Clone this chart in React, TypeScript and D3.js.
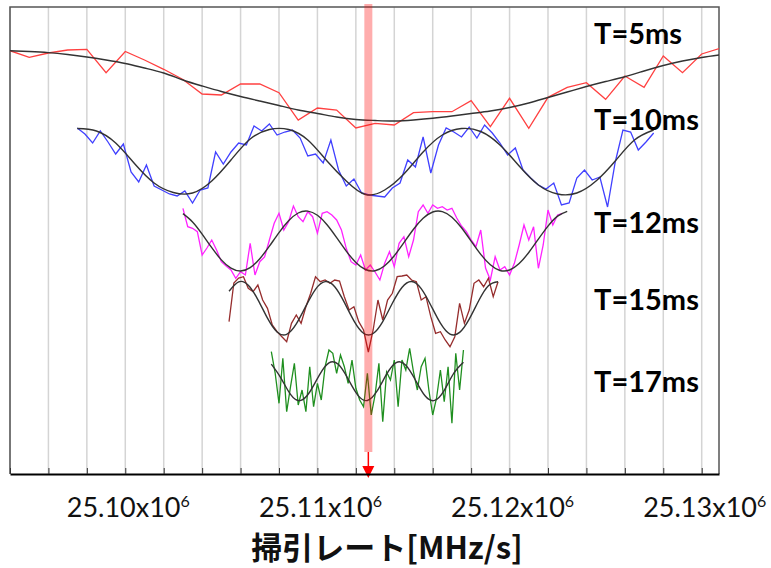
import { useEffect, useRef } from 'react'
import * as d3 from 'd3'

// sweep rate in units of x10^6 MHz/s, signal in arbitrary units (traces stacked)
const xTickLabels = [25.1, 25.11, 25.12, 25.13]
const seriesLabels = ['T=5ms', 'T=10ms', 'T=12ms', 'T=15ms', 'T=17ms']
const markerRate = 25.11265

const t5Start = 25.094
const t5Step = 0.001
const t5Data = [423.3, 416.7, 421, 424, 424.7, 401.3, 422.5, 414, 404.7, 394.5, 380, 379, 390, 390, 381.3, 354, 366, 364, 346, 350.7, 349, 361.3, 362.3, 362.3, 373.3, 347.3, 375.7, 345.7, 376.7, 386.7, 391.3, 374.7, 398, 386.7, 418, 401.3, 420, 426]
const t5FitStep = 0.001
const t5Fit = [423.3, 422.5, 421.4, 419.5, 417, 414, 410.5, 406, 401, 394, 388, 382.5, 377.5, 373, 368.5, 364, 360.5, 357, 354.5, 353.5, 353, 354, 355.7, 358, 360.5, 363, 366.5, 371, 376.5, 382, 387.5, 392.5, 397.3, 403, 408.5, 413, 416.5, 419.2]

const t10Start = 25.0975
const t10Step = 0.0004
const t10Data = [346, 340, 331, 343, 332, 320, 330, 302, 292, 309, 288, 284, 280, 278, 283, 271, 284, 286, 322, 310, 322, 331, 329, 348, 343, 350, 339, 342, 344, 336, 318, 320, 311, 334, 304, 288, 295, 281, 279, 278, 277, 286, 291, 314, 307, 337, 301, 329, 346, 342, 337, 347, 336, 349, 341, 331, 319, 326, 304, 296, 289, 285, 291, 269, 271, 296, 304, 294, 297, 267, 312, 344, 342, 324, 332, 341]
const t10FitStep = 0.001
const t10Fit = [345.5, 343, 331, 310, 291, 281.5, 281, 293, 314, 335, 344.5, 344.5, 334, 313, 293, 279.5, 284, 300, 322, 339, 345.5, 342.5, 329, 308, 289, 280, 281, 293, 313, 334, 344]

const t12Start = 25.103
const t12Step = 0.00025
const t12Data = [265.7, 247.3, 245.7, 242.3, 219, 226, 234, 224, 212.3, 208, 204, 195.7, 202.3, 199, 230.7, 199, 212.3, 217, 234, 250.7, 260.7, 244, 252.3, 268, 257.3, 252.3, 262.3, 257.3, 240.7, 260.7, 262.3, 259, 254, 244, 225.7, 212.3, 209, 219, 204, 209, 202, 194, 210.7, 222.3, 207.3, 230.7, 237.3, 217.3, 234, 262.3, 269, 260.7, 269, 265.7, 267.3, 264, 265.7, 256, 248, 242.3, 234, 227.3, 244, 206, 194, 217.3, 204, 207.3, 199, 210.7, 229, 249, 234, 247.3, 205.7, 229, 264, 249, 259, 260.7]
const t12FitStep = 0.0005
const t12Fit = [260.4, 252.1, 239.9, 226.3, 214.1, 205.8, 203, 206.4, 215.3, 227.8, 241.4, 253.2, 261, 262.9, 258.7, 249.3, 236.4, 222.9, 211.6, 204.5, 203.3, 208.3, 218.3, 231.4, 244.8, 255.7, 262, 262.4, 256.8, 246.2, 232.8, 219.6, 209.2, 203.5, 204, 210.5, 221.5, 234.9, 247.9, 257.9, 262.7]

const t15Start = 25.1054
const t15Step = 0.00025
const t15Data = [152.3, 191, 196, 197.3, 185.7, 182.3, 189, 174, 165.7, 149, 142.3, 137.3, 132.3, 150.7, 159, 150.7, 167.3, 180.7, 197.3, 192.3, 194, 190.7, 194, 193, 177.3, 164, 167.3, 152.3, 144, 122, 144, 174, 154, 174, 180.7, 197.3, 198, 199, 194, 192.3, 174, 177.3, 157.3, 140.7, 142.3, 134, 127.3, 137.3, 170.7, 150.7, 164, 190.7, 194, 187.3, 195.7, 177.3, 192.3]
const t15FitStep = 0.0005
const t15Fit = [182.7, 192.1, 188.8, 174.4, 155.8, 142, 139.7, 150.1, 167.9, 184.7, 192.4, 187.2, 171.6, 153.2, 140.8, 140.5, 152.4, 170.7, 186.5, 192.5, 185.4, 168.8, 150.8, 139.9, 141.6, 154.9, 173.5, 188.3, 192.2]

const t17Start = 25.1076
const t17Step = 0.0002
const t17Data = [122.3, 101, 70.7, 115.7, 62.3, 87.3, 110.7, 69, 84, 62.3, 107.3, 67.3, 90.7, 74, 107.3, 124, 120.7, 100.7, 119, 107.3, 90.7, 114, 85.7, 74, 67.3, 100.7, 59, 79, 110.7, 52.3, 102, 94, 114, 67.3, 114, 104, 125.7, 102, 84, 107.3, 115.7, 84, 59, 76, 104, 72.3, 107.3, 50.7, 120.7, 84, 124]
const t17FitStep = 0.0005
const t17Fit = [109.8, 95.9, 79.6, 73.4, 82, 98.9, 111.1, 109.4, 94.9, 78.9, 73.5, 82.8, 99.8, 111.4, 108.8, 94, 78.2, 73.6, 83.7, 100.8, 111.7]

const traces = [
    { start: t5Start, step: t5Step, data: t5Data, fitStep: t5FitStep, fit: t5Fit, color: '#ff4040' },
    { start: t10Start, step: t10Step, data: t10Data, fitStep: t10FitStep, fit: t10Fit, color: '#4040ff' },
    { start: t12Start, step: t12Step, data: t12Data, fitStep: t12FitStep, fit: t12Fit, color: '#ff22ff' },
    { start: t15Start, step: t15Step, data: t15Data, fitStep: t15FitStep, fit: t15Fit, color: '#962d2d' },
    { start: t17Start, step: t17Step, data: t17Data, fitStep: t17FitStep, fit: t17Fit, color: '#1f8f1f' },
]

const W = 771
const H = 568
const left = 10
const right = 719
const top = 7
const bottom = 474

const Chart = () => {
    const ref = useRef<SVGSVGElement | null>(null)

    useEffect(() => {
        if (!ref.current) return
        const svg = d3.select(ref.current)
        svg.selectAll('*').remove()

        const x = d3.scaleLinear().domain([25.094, 25.1309]).range([left, right])
        const y = d3.scaleLinear().domain([0, 467]).range([bottom, top])
        const grid = d3.range(19).map(i => 25.094 + i * 0.002)

        svg.append('defs')
            .append('clipPath')
            .attr('id', 'plot')
            .append('rect')
            .attr('x', left)
            .attr('y', top)
            .attr('width', right - left)
            .attr('height', bottom - top)

        // vertical grid
        svg.append('g')
            .selectAll('line')
            .data(grid)
            .join('line')
            .attr('x1', d => x(d))
            .attr('x2', d => x(d))
            .attr('y1', top)
            .attr('y2', bottom)
            .attr('stroke', '#d4d4d4')
            .attr('stroke-width', 1.5)

        // frame
        svg.append('path')
            .attr('d', `M${left},${bottom}V${top}H${right}V${bottom}`)
            .attr('fill', 'none')
            .attr('stroke', '#555')
            .attr('stroke-width', 1.5)

        const line = d3.line<[number, number]>().x(d => x(d[0])).y(d => y(d[1]))
        const fitLine = d3.line<[number, number]>().x(d => x(d[0])).y(d => y(d[1])).curve(d3.curveNatural)

        const plot = svg.append('g').attr('clip-path', 'url(#plot)')
        traces.forEach(t => {
            const pts = t.data.map((v, i) => [t.start + i * t.step, v] as [number, number])
            const fitPts = t.fit.map((v, i) => [t.start + i * t.fitStep, v] as [number, number])
            plot.append('path')
                .attr('d', line(pts))
                .attr('fill', 'none')
                .attr('stroke', t.color)
                .attr('stroke-width', 1.3)
            plot.append('path')
                .attr('d', fitLine(fitPts))
                .attr('fill', 'none')
                .attr('stroke', '#333')
                .attr('stroke-width', 1.4)
        })

        // resonance marker
        const xm = x(markerRate)
        svg.append('rect')
            .attr('x', xm - 4)
            .attr('y', 4)
            .attr('width', 8)
            .attr('height', 448)
            .attr('fill', '#ff0000')
            .attr('opacity', 0.32)
        svg.append('line')
            .attr('x1', xm)
            .attr('x2', xm)
            .attr('y1', 452)
            .attr('y2', 468)
            .attr('stroke', '#ff0000')
            .attr('stroke-width', 1.5)
        svg.append('path')
            .attr('d', `M${xm - 6},466L${xm + 6},466L${xm},478Z`)
            .attr('fill', '#ff0000')

        // bottom axis
        svg.append('g')
            .attr('transform', `translate(0,${bottom})`)
            .call(d3.axisBottom(x).tickValues(grid).tickSize(-6).tickSizeOuter(0).tickFormat(() => ''))
            .call(g => g.select('.domain').attr('stroke', '#000').attr('stroke-width', 2))
            .call(g => g.selectAll('.tick line').attr('stroke', '#333'))

        const tickText = svg.append('g')
            .selectAll('text')
            .data(xTickLabels)
            .join('text')
            .attr('x', d => x(d) + 3)
            .attr('y', 517)
            .attr('text-anchor', 'middle')
            .attr('font-family', 'Lato, sans-serif')
            .attr('font-size', 27)
            .attr('fill', '#111')
        tickText.append('tspan').text(d => d.toFixed(2) + 'x10')
        tickText.append('tspan').attr('dy', -10).attr('font-size', 16).text('6')

        svg.append('text')
            .attr('x', 387)
            .attr('y', 559)
            .attr('text-anchor', 'middle')
            .attr('font-family', '"Noto Sans CJK JP", sans-serif')
            .attr('font-weight', 'bold')
            .attr('font-size', 31)
            .attr('fill', '#111')
            .text('掃引レート[MHz/s]')

        const labelBaselines = [44, 130, 233, 310, 392]
        svg.append('g')
            .selectAll('text')
            .data(seriesLabels)
            .join('text')
            .attr('x', 594)
            .attr('y', (_, i) => labelBaselines[i])
            .attr('font-family', 'Lato, sans-serif')
            .attr('font-weight', 'bold')
            .attr('font-size', 29)
            .attr('fill', '#000')
            .text(d => d)
    }, [])

    return (
        <svg
            ref={ref}
            width={W}
            height={H}
            style={{ position: 'absolute', left: 0, top: 0, background: '#fff' }}
        ></svg>
    )
}

export default function App() {
    return <Chart />
}
